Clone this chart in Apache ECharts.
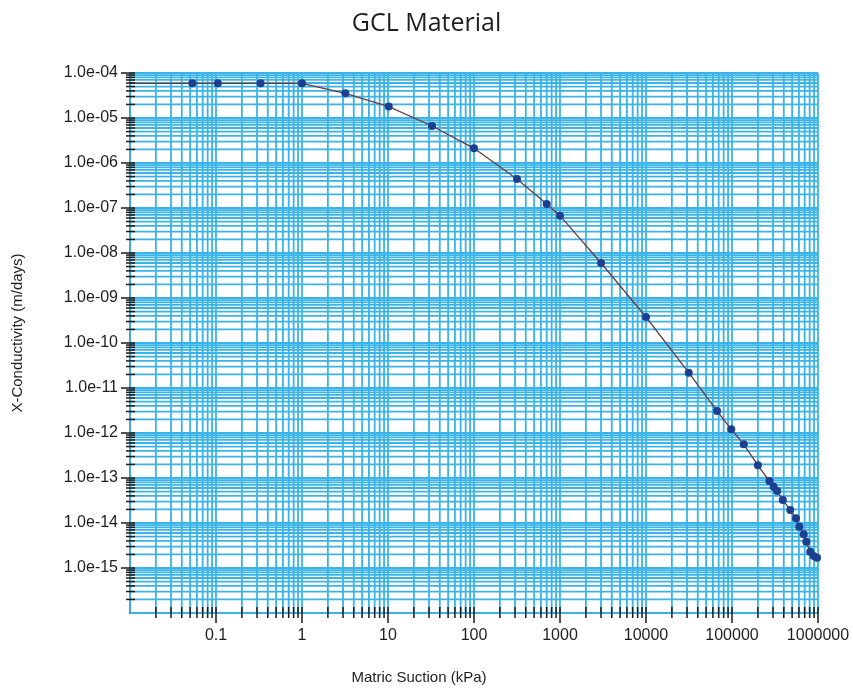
<!DOCTYPE html>
<html>
<head>
<meta charset="utf-8">
<script src="https://cdn.jsdelivr.net/npm/echarts@6/dist/echarts.min.js"></script>
<style>
  html, body { margin: 0; padding: 0; background: #fff; }
  #chart { width: 853px; height: 690px; }
</style>
</head>
<body>
<div id="chart"></div>
<script>
  // points (kPa, m/days)
  const suction = [0.053, 0.105, 0.33, 1.0, 3.19, 10.2, 32.5, 100, 316, 700, 1000, 3000,
    10000, 31400, 67000, 98000, 137000, 200000, 272000, 305000, 335000, 390000, 476000,
    555000, 606000, 682000, 731000, 813000, 891000, 975000];
  const conductivity = [5.9e-5, 5.9e-5, 5.9e-5, 5.9e-5, 3.53e-5, 1.79e-5, 6.64e-6, 2.12e-6,
    4.41e-7, 1.23e-7, 6.75e-8, 6.0e-9, 3.78e-10, 2.19e-11, 3.08e-12, 1.21e-12, 5.61e-13,
    1.91e-13, 8.58e-14, 6.41e-14, 5.14e-14, 3.24e-14, 1.95e-14, 1.27e-14, 8.28e-15,
    5.61e-15, 3.84e-15, 2.30e-15, 1.85e-15, 1.69e-15];
  // the curve starts at the y axis
  const curveSuction = [0.01].concat(suction);
  const curveK = [5.9e-5].concat(conductivity);

  const xMin = 0.01, xMax = 1e6;
  const yMin = 1e-16, yMax = 1e-4;
  const xDecades = [-2, -1, 0, 1, 2, 3, 4, 5];
  const yDecades = [-16, -15, -14, -13, -12, -11, -10, -9, -8, -7, -6, -5];

  // log grid positions: 1..9 in every decade
  function logSteps(decades, last) {
    var out = [];
    decades.forEach(function (e) {
      for (var m = 1; m <= 9; m++) out.push([m * Math.pow(10, e), m === 1 ? 1 : 0]);
    });
    out.push([last, 1]);
    return out;
  }
  const xSteps = logSteps(xDecades, xMax);
  const ySteps = logSteps(yDecades, yMax);

  const gridColor = '#3ab4e8';
  const inkColor = '#1a1a1a';

  function pad2(n) { return n < 10 ? '0' + n : '' + n; }

  var chart = echarts.init(document.getElementById('chart'));
  var option = {
    animation: false,
    backgroundColor: '#fff',
    title: {
      text: 'GCL Material',
      left: 'center',
      top: 6,
      textStyle: { fontFamily: 'Open Sans', fontSize: 25, fontWeight: 'normal', color: '#1e1e1e' }
    },
    grid: { left: 130, right: 35, top: 73, bottom: 77 },
    xAxis: {
      type: 'log',
      logBase: 10,
      min: xMin,
      max: xMax,
      interval: 1,
      splitLine: { show: false },
      axisTick: { show: false },
      axisLine: { lineStyle: { color: inkColor, width: 1.5 } },
      axisLabel: {
        color: '#1e1e1e',
        fontFamily: 'Liberation Sans',
        fontSize: 16,
        margin: 15,
        interval: 0,
        hideOverlap: false,
        formatter: function (v) {
          if (v < 0.05) return '';
          return String(Number(v.toPrecision(1)));
        }
      }
    },
    yAxis: {
      type: 'log',
      logBase: 10,
      min: yMin,
      max: yMax,
      interval: 1,
      splitLine: { show: false },
      axisTick: { show: false },
      axisLine: { lineStyle: { color: inkColor, width: 1.5 } },
      axisLabel: {
        color: '#1e1e1e',
        fontFamily: 'Liberation Sans',
        fontSize: 16,
        margin: 12,
        interval: 0,
        hideOverlap: false,
        formatter: function (v) {
          var e = Math.round(Math.log10(v));
          if (e <= -16) return '';
          return '1.0e-' + pad2(-e);
        }
      }
    },
    graphic: [
      {
        type: 'text', x: 18, y: 333, rotation: Math.PI / 2,
        style: {
          text: 'X-Conductivity (m/days)', fill: '#1e1e1e',
          font: '15px "Liberation Sans"', align: 'center', verticalAlign: 'middle'
        }
      },
      {
        type: 'text', x: 419, y: 678,
        style: {
          text: 'Matric Suction (kPa)', fill: '#1e1e1e',
          font: '15px "Liberation Sans"', align: 'center', verticalAlign: 'middle'
        }
      }
    ],
    series: [
      {
        // vertical grid lines
        type: 'custom', z: 1, silent: true,
        data: xSteps.map(function (s) { return [s[0], yMin]; }),
        renderItem: function (params, api) {
          var a = api.coord([api.value(0), yMax]);
          var b = api.coord([api.value(0), yMin]);
          return { type: 'line', shape: { x1: a[0], y1: a[1], x2: b[0], y2: b[1] },
            style: { stroke: gridColor, lineWidth: 1.8 } };
        }
      },
      {
        // horizontal grid lines
        type: 'custom', z: 1, silent: true,
        data: ySteps.map(function (s) { return [xMin, s[0]]; }),
        renderItem: function (params, api) {
          var a = api.coord([xMin, api.value(1)]);
          var b = api.coord([xMax, api.value(1)]);
          return { type: 'line', shape: { x1: a[0], y1: a[1], x2: b[0], y2: b[1] },
            style: { stroke: gridColor, lineWidth: 1.8 } };
        }
      },
      {
        // x ticks, crossing the axis line
        type: 'custom', z: 6, silent: true,
        data: xSteps.map(function (s) { return [s[0], yMin, s[1]]; }),
        renderItem: function (params, api) {
          var p = api.coord([api.value(0), yMin]);
          var major = api.value(2) === 1;
          if (api.value(0) <= xMin) return null;
          return { type: 'line', shape: { x1: p[0], y1: p[1] - 6, x2: p[0], y2: p[1] + (major ? 10 : 5) },
            style: { stroke: inkColor, lineWidth: 1.5 } };
        }
      },
      {
        // y ticks, crossing the axis line
        type: 'custom', z: 6, silent: true,
        data: ySteps.map(function (s) { return [xMin, s[0], s[1]]; }),
        renderItem: function (params, api) {
          var p = api.coord([xMin, api.value(1)]);
          var major = api.value(2) === 1;
          if (api.value(1) <= yMin) return null;
          return { type: 'line', shape: { x1: p[0] - (major ? 9 : 4), y1: p[1], x2: p[0] + 5, y2: p[1] },
            style: { stroke: inkColor, lineWidth: 1.5 } };
        }
      },
      {
        name: 'curve',
        type: 'line', z: 3,
        data: curveSuction.map(function (x, i) { return [x, curveK[i]]; }),
        showSymbol: false,
        lineStyle: { color: '#6e3a3a', width: 1.3 }
      },
      {
        name: 'points',
        type: 'scatter', z: 4,
        data: suction.map(function (x, i) { return [x, conductivity[i]]; }),
        symbol: 'circle',
        symbolSize: 8,
        itemStyle: { color: '#1c3f92', opacity: 1 }
      }
    ]
  };
  chart.setOption(option);
</script>
</body>
</html>
